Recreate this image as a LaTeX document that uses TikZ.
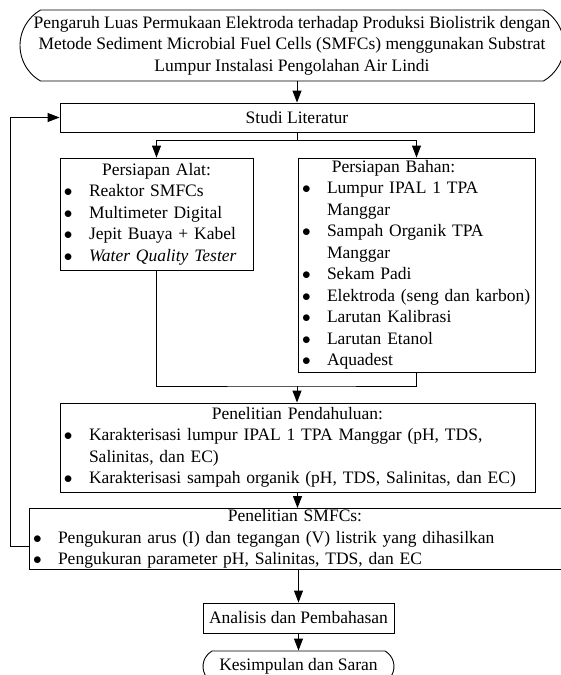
\documentclass[tikz,border=0pt]{standalone}
\usepackage{fontspec}
\setmainfont{Liberation Serif}
\usetikzlibrary{arrows.meta,shapes.misc}
\setlength{\parindent}{0pt}
\newcommand{\butir}[1]{\par\noindent\hangindent=26pt\hangafter=1\makebox[26pt][l]{\hspace{1pt}$\bullet$}#1}
\newcommand{\judul}[1]{{\centering #1\par}}

\begin{document}
\begin{tikzpicture}[x=1pt,y=-1pt,
	font=\fontsize{17.5}{21.5}\selectfont,
	kotak/.style={draw,rectangle,line width=0.9pt,inner xsep=3pt,inner ysep=1pt,align=left},
	ujung/.style={draw,rounded rectangle,rounded rectangle arc length=120,line width=0.9pt,inner sep=1pt,align=center},
	panah/.style={-{Triangle[length=12pt,width=9pt]},line width=1pt}]
	\useasboundingbox (0,0) rectangle (560,675);% l'image d'origine coupe le dernier cadre
	
	\node[ujung,inner xsep=-10pt,minimum width=524pt,minimum height=71pt] (judul) at (292,45.5) {Pengaruh Luas Permukaan Elektroda terhadap Produksi Biolistrik dengan\\ Metode Sediment Microbial Fuel Cells (SMFCs) menggunakan Substrat\\ Lumpur Instalasi Pengolahan Air Lindi};
	\node[kotak,align=center,minimum width=474pt,minimum height=29pt] (studi) at (297,117.5) {Studi Literatur};
	\node[kotak,text width=187pt,minimum height=112pt] (alat) at (156.5,214) {\judul{Persiapan Alat:}\butir{Reaktor SMFCs}\butir{Multimeter Digital}\butir{Jepit Buaya + Kabel}\butir{\textit{Water Quality Tester}}};
	\node[kotak,text width=231pt,minimum height=214pt] (bahan) at (416.5,265) {\judul{\hspace*{-46pt}Persiapan Bahan:}\butir{Lumpur IPAL 1 TPA\newline Manggar}\butir{Sampah Organik TPA\newline Manggar}\butir{Sekam Padi}\butir{Elektroda (seng dan karbon)}\butir{Larutan Kalibrasi}\butir{Larutan Etanol}\butir{Aquadest}};
	\node[kotak,text width=469pt,minimum height=89pt] (pendahuluan) at (297.5,447.5) {\judul{Penelitian Pendahuluan:}\butir{Karakterisasi lumpur IPAL 1 TPA Manggar (pH, TDS,\newline Salinitas, dan EC)}\butir{Karakterisasi sampah organik (pH, TDS, Salinitas, dan EC)}};
	\node[kotak,text width=526pt,minimum height=56pt] (smfc) at (295,539) {\judul{Penelitian SMFCs:}\butir{Pengukuran arus (I) dan tegangan (V) listrik yang dihasilkan}\butir{Pengukuran parameter pH, Salinitas, TDS, dan EC}};
	\node[kotak,align=center,inner xsep=1pt,minimum width=191pt,minimum height=30pt] (analisis) at (298.5,618) {Analisis dan Pembahasan};
	\node[ujung,minimum width=193pt,minimum height=31pt] (kesimpulan) at (298.5,666.5) {Kesimpulan dan Saran};
	
	\coordinate (cabang) at (297,140);
	\coordinate (gabung) at (297,386);
	\coordinate (balik) at (10,546);
	\draw[panah] (judul.south -| studi.north) -- (studi.north);
	\draw[panah] (studi.south) -- (cabang) -| (alat.north);
	\draw[panah] (cabang) -| (bahan.north);
	\draw[line width=1pt] (alat.south) |- (gabung) -| (bahan.south);
	\draw[panah] (gabung) -- (gabung |- pendahuluan.north);
	\draw[panah] (pendahuluan.south) -- (pendahuluan.south |- smfc.north);
	\draw[panah] (smfc.south -| analisis.north) -- (analisis.north);
	\draw[panah] (analisis.south) -- (kesimpulan.north);
	\draw[panah] (smfc.west |- balik) -- (balik) |- (studi.west);
\end{tikzpicture}
\end{document}
